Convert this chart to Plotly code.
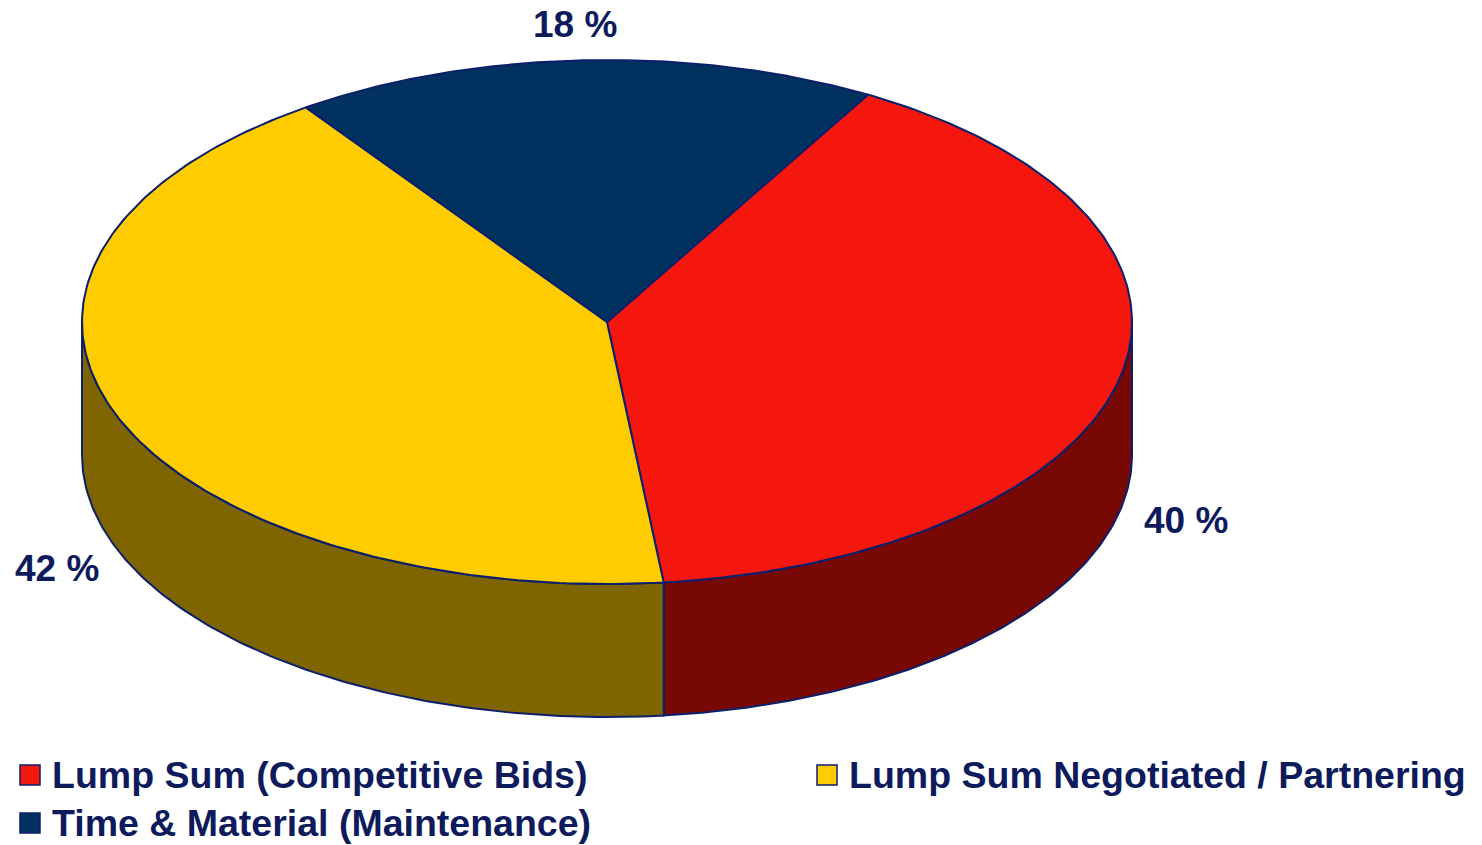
import numpy as np
import plotly.graph_objects as go

# ---- data ----
categories = ["Lump Sum (Competitive Bids)", "Lump Sum Negotiated / Partnering", "Time & Material (Maintenance)"]
values = [40, 42, 18]
top_colors = ["#F5160E", "#FFCC00", "#00315F"]
side_colors = ["#780804", "#7F6500", "#001830"]
label_texts = [f"{v} %" for v in values]

# ---- geometry (pixel space) ----
W, H = 1482, 845
cx, cy = 607, 322
rx, ry = 525, 262
depth = 133
start_deg = 60.2  # math angle, slices go clockwise
edge = "#0B1F6B"
txt = "#0D1A5C"
FONT = "Liberation Sans"

fig = go.Figure()

def pt(a_deg, dy=0.0):
    a = np.radians(a_deg)
    return cx + rx * np.cos(a), cy - ry * np.sin(a) + dy

total = float(sum(values))
bounds = []
a = start_deg
for v in values:
    b = a - 360.0 * v / total
    bounds.append((a, b))
    a = b

# side faces first (visible front part: angles in (-180, 0) mod 360)
for (a0, a1), col in zip(bounds, side_colors):
    for shift in (0, 360, -360):
        hi = min(a0 + shift, 0.0)
        lo = max(a1 + shift, -180.0)
        if hi > lo:
            angs = np.linspace(hi, lo, 120)
            xs_t, ys_t = zip(*[pt(t) for t in angs])
            xs_b, ys_b = zip(*[pt(t, depth) for t in angs[::-1]])
            xs = list(xs_t) + list(xs_b) + [xs_t[0]]
            ys = list(ys_t) + list(ys_b) + [ys_t[0]]
            fig.add_trace(go.Scatter(x=xs, y=ys, mode="lines", fill="toself",
                                     fillcolor=col, line=dict(color=edge, width=2),
                                     hoverinfo="skip", showlegend=False))

# top faces
for (a0, a1), col, name in zip(bounds, top_colors, categories):
    angs = np.linspace(a0, a1, 200)
    pts = [pt(t) for t in angs]
    xs = [cx] + [p[0] for p in pts] + [cx]
    ys = [cy] + [p[1] for p in pts] + [cy]
    fig.add_trace(go.Scatter(x=xs, y=ys, mode="lines", fill="toself",
                             fillcolor=col, line=dict(color=edge, width=2),
                             hoverinfo="skip", showlegend=False, name=name))

# percentage labels
label_pos = [(1186, 520), (57, 568), (575, 24)]
for (lx, ly), t in zip(label_pos, label_texts):
    fig.add_annotation(x=lx, y=ly, text=f"<b>{t}</b>", showarrow=False,
                       font=dict(family=FONT, size=37, color=txt),
                       xanchor="center", yanchor="middle")

# legend
leg_pos = [(30, 775), (827, 775), (30, 823)]
for (lx, ly), col, name in zip(leg_pos, top_colors, categories):
    fig.add_trace(go.Scatter(x=[lx], y=[ly], mode="markers",
                             marker=dict(symbol="square", size=20, color=col,
                                         line=dict(color=edge, width=1.5)),
                             hoverinfo="skip", showlegend=False))
    fig.add_annotation(x=lx + 20, y=ly, text=f"<b>{name}</b>", showarrow=False,
                       font=dict(family=FONT, size=37.5, color=txt),
                       xanchor="left", yanchor="middle")

fig.update_layout(
    width=W, height=H,
    margin=dict(l=0, r=0, t=0, b=0),
    paper_bgcolor="white", plot_bgcolor="white",
    xaxis=dict(range=[0, W], visible=False, fixedrange=True),
    yaxis=dict(range=[H, 0], visible=False, fixedrange=True),
    showlegend=False,
)
fig.write_html("out.html")
